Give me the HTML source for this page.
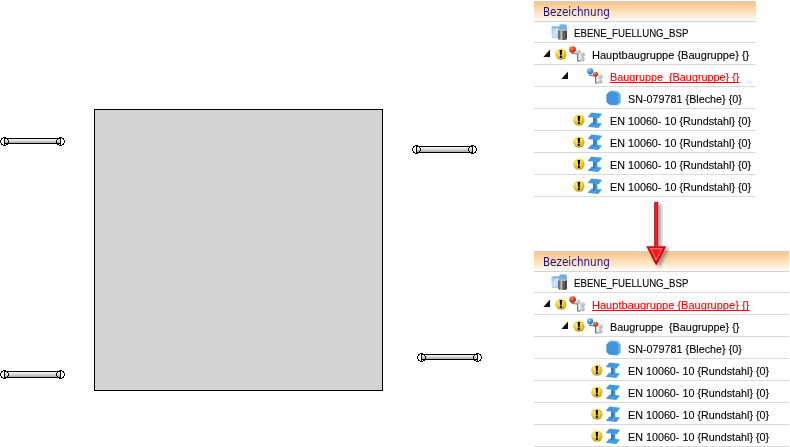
<!DOCTYPE html>
<html lang="de"><head><meta charset="utf-8"><title>Bezeichnung</title>
<style>
html,body{margin:0;padding:0;background:#fff}
html{width:790px;height:447px;overflow:hidden}
body{width:790px;height:447px;position:relative;overflow:hidden;font-family:"Liberation Sans", sans-serif;font-size:11.6px;color:#000}
.i{position:absolute;display:block;overflow:visible}
.t{position:absolute;white-space:nowrap;-webkit-text-stroke:0.12px currentColor;line-height:22px;height:22px;transform-origin:0 50%;letter-spacing:0}
.hdt{color:#1f1080;font-family:"DejaVu Sans Condensed","DejaVu Sans","Liberation Sans",sans-serif;font-size:12px;line-height:21px;height:21px;-webkit-text-stroke:0}
.red{color:#f00;text-decoration:underline;text-decoration-thickness:1px;text-underline-offset:1px;text-decoration-skip-ink:none}
.hd{position:absolute;height:19px;border-top:1px solid #ccd0d6;border-bottom:1px solid #d4d4d4;background:linear-gradient(#fcc684 0,#fdd6a8 33%,#feebd6 72%,#fffdfb 100%)}
.ln{position:absolute;height:1px;background:#dadada}
.dot{position:absolute;width:1px;height:1px;background:#dfe3ea}
#sq{position:absolute;left:94px;top:109px;width:287px;height:280px;border:1px solid #000;background:#d3d3d3}
#wrap{position:absolute;left:0;top:0;width:790px;height:447px;overflow:hidden;contain:strict}
</style></head><body>
<div id="wrap">
<div id="sq"></div>
<svg class="i" style="left:0px;top:137px" width="65" height="9" viewBox="0 0 65 9" shape-rendering="crispEdges">
<defs><linearGradient id="rd0_137" x1="0" x2="0" y1="0" y2="1"><stop offset="0" stop-color="#ffffff"/><stop offset=".35" stop-color="#e4e4e4"/><stop offset="1" stop-color="#a0a0a0"/></linearGradient></defs>
<rect x="4.5" y="1.5" width="56" height="5" fill="url(#rd0_137)" stroke="#000" stroke-width="1"/>
<path d="M4.5 0V9M60.5 0V9" stroke="#000" stroke-width="1" fill="none"/>
<path d="M3 .5H6M1 1.5H3M6 1.5H8M1 2.5H2M7 2.5H8M.5 3V6M8.5 3V6M1 6.5H2M7 6.5H8M1 7.5H3M6 7.5H8M3 8.5H6" stroke="#000" stroke-width="1" fill="none"/>
<path d="M3 .5H6M1 1.5H3M6 1.5H8M1 2.5H2M7 2.5H8M.5 3V6M8.5 3V6M1 6.5H2M7 6.5H8M1 7.5H3M6 7.5H8M3 8.5H6" stroke="#000" stroke-width="1" fill="none" transform="translate(56 0)"/>
</svg>
<svg class="i" style="left:0px;top:370px" width="65" height="9" viewBox="0 0 65 9" shape-rendering="crispEdges">
<defs><linearGradient id="rd0_370" x1="0" x2="0" y1="0" y2="1"><stop offset="0" stop-color="#ffffff"/><stop offset=".35" stop-color="#e4e4e4"/><stop offset="1" stop-color="#a0a0a0"/></linearGradient></defs>
<rect x="4.5" y="1.5" width="56" height="6" fill="url(#rd0_370)" stroke="#000" stroke-width="1"/>
<path d="M4.5 0V9M60.5 0V9" stroke="#000" stroke-width="1" fill="none"/>
<path d="M3 .5H6M1 1.5H3M6 1.5H8M1 2.5H2M7 2.5H8M.5 3V6M8.5 3V6M1 6.5H2M7 6.5H8M1 7.5H3M6 7.5H8M3 8.5H6" stroke="#000" stroke-width="1" fill="none"/>
<path d="M3 .5H6M1 1.5H3M6 1.5H8M1 2.5H2M7 2.5H8M.5 3V6M8.5 3V6M1 6.5H2M7 6.5H8M1 7.5H3M6 7.5H8M3 8.5H6" stroke="#000" stroke-width="1" fill="none" transform="translate(56 0)"/>
</svg>
<svg class="i" style="left:412px;top:145px" width="65" height="9" viewBox="0 0 65 9" shape-rendering="crispEdges">
<defs><linearGradient id="rd412_145" x1="0" x2="0" y1="0" y2="1"><stop offset="0" stop-color="#ffffff"/><stop offset=".35" stop-color="#e4e4e4"/><stop offset="1" stop-color="#a0a0a0"/></linearGradient></defs>
<rect x="4.5" y="1.5" width="56" height="6" fill="url(#rd412_145)" stroke="#000" stroke-width="1"/>
<path d="M4.5 0V9M60.5 0V9" stroke="#000" stroke-width="1" fill="none"/>
<path d="M3 .5H6M1 1.5H3M6 1.5H8M1 2.5H2M7 2.5H8M.5 3V6M8.5 3V6M1 6.5H2M7 6.5H8M1 7.5H3M6 7.5H8M3 8.5H6" stroke="#000" stroke-width="1" fill="none"/>
<path d="M3 .5H6M1 1.5H3M6 1.5H8M1 2.5H2M7 2.5H8M.5 3V6M8.5 3V6M1 6.5H2M7 6.5H8M1 7.5H3M6 7.5H8M3 8.5H6" stroke="#000" stroke-width="1" fill="none" transform="translate(56 0)"/>
</svg>
<svg class="i" style="left:417px;top:353px" width="65" height="9" viewBox="0 0 65 9" shape-rendering="crispEdges">
<defs><linearGradient id="rd417_353" x1="0" x2="0" y1="0" y2="1"><stop offset="0" stop-color="#ffffff"/><stop offset=".35" stop-color="#e4e4e4"/><stop offset="1" stop-color="#a0a0a0"/></linearGradient></defs>
<rect x="4.5" y="1.5" width="56" height="5" fill="url(#rd417_353)" stroke="#000" stroke-width="1"/>
<path d="M4.5 0V9M60.5 0V9" stroke="#000" stroke-width="1" fill="none"/>
<path d="M3 .5H6M1 1.5H3M6 1.5H8M1 2.5H2M7 2.5H8M.5 3V6M8.5 3V6M1 6.5H2M7 6.5H8M1 7.5H3M6 7.5H8M3 8.5H6" stroke="#000" stroke-width="1" fill="none"/>
<path d="M3 .5H6M1 1.5H3M6 1.5H8M1 2.5H2M7 2.5H8M.5 3V6M8.5 3V6M1 6.5H2M7 6.5H8M1 7.5H3M6 7.5H8M3 8.5H6" stroke="#000" stroke-width="1" fill="none" transform="translate(56 0)"/>
</svg>
<div class="hd" style="left:534px;top:1px;width:222px"></div>
<span class="t hdt" style="left:543px;top:2px;transform:scaleX(0.962)">Bezeichnung</span>
<div class="ln" style="left:534px;top:42px;width:222px"></div>
<div class="ln" style="left:534px;top:64px;width:222px"></div>
<div class="ln" style="left:534px;top:86px;width:222px"></div>
<div class="ln" style="left:534px;top:108px;width:222px"></div>
<div class="ln" style="left:534px;top:130px;width:222px"></div>
<div class="ln" style="left:534px;top:152px;width:222px"></div>
<div class="ln" style="left:534px;top:174px;width:222px"></div>
<div class="ln" style="left:534px;top:196px;width:222px"></div>
<svg class="i" style="left:551px;top:24px" width="17" height="17" viewBox="0 0 17 17">
<defs>
<linearGradient id="cy551_24" x1="0" x2="1" y1="0" y2="0"><stop offset="0" stop-color="#565656"/><stop offset=".18" stop-color="#7a7a7a"/><stop offset=".36" stop-color="#cdcdcd"/><stop offset=".52" stop-color="#6a6a6a"/><stop offset="1" stop-color="#3e3e3e"/></linearGradient>
<linearGradient id="fo551_24" x1="0" x2="1" y1="0" y2="1"><stop offset="0" stop-color="#9ccbf0"/><stop offset=".5" stop-color="#d3e6f7"/><stop offset="1" stop-color="#a9d0f0"/></linearGradient>
</defs>
<path d="M0.6 3.2 Q0.6 2.4 1.4 2.4 L7.6 2.6 L9 0.8 Q9.4 0.3 10.2 0.3 L14.6 0.5 Q15.6 0.6 15.8 1.6 L16 6 L8 6 L8 14 L1.8 13.8 Q1 13.6 0.9 12.8 Z" fill="#6db0e7"/>
<path d="M0.9 4 L7.8 4.2 L7.8 14 L2.2 13.6 Q1.3 13.4 1.2 12.6 Z" fill="url(#fo551_24)"/>
<path d="M7.2 5.9 L7.2 14.7 Q7.2 16 11.6 16 Q16 16 16 14.7 L16 5.9 Z" fill="url(#cy551_24)"/>
<ellipse cx="11.6" cy="5.9" rx="4.4" ry="1.05" fill="#b4b4b4"/>
</svg>
<span class="t " style="left:573.7px;top:22px;transform:scaleX(0.833)">EBENE_FUELLUNG_BSP</span>
<svg class="i" style="left:543px;top:50px" width="8" height="8" viewBox="0 0 8 8"><path d="M7 -0.5 L7 7 L0.4 7 Z" fill="#111"/></svg>
<svg class="i" style="left:555px;top:48px" width="12" height="12" viewBox="0 0 12 12">
<defs><radialGradient id="w555_48" cx=".4" cy=".3" r=".75"><stop offset="0" stop-color="#fff08a"/><stop offset=".45" stop-color="#f3d53a"/><stop offset=".85" stop-color="#cfae1c"/><stop offset="1" stop-color="#9a8412"/></radialGradient></defs>
<circle cx="5.9" cy="6.2" r="5.6" fill="url(#w555_48)"/>
<path d="M4.6 2 L7.1 2 L6.6 7.4 L5.1 7.4 Z" fill="#000"/>
<rect x="4.9" y="8.1" width="2" height="1.9" rx=".4" fill="#000"/>
</svg>
<svg class="i" style="left:569px;top:46px" width="17" height="17" viewBox="0 0 17 17"><defs><radialGradient id="ra569_461" cx=".38" cy=".32" r=".8"><stop offset="0" stop-color="#ff9078"/><stop offset=".5" stop-color="#e03c24"/><stop offset="1" stop-color="#b02410"/></radialGradient><radialGradient id="ga569_462" cx=".38" cy=".32" r=".8"><stop offset="0" stop-color="#e2e2e2"/><stop offset=".5" stop-color="#bdbdbd"/><stop offset="1" stop-color="#949494"/></radialGradient><radialGradient id="ga569_463" cx=".38" cy=".32" r=".8"><stop offset="0" stop-color="#e2e2e2"/><stop offset=".5" stop-color="#bdbdbd"/><stop offset="1" stop-color="#949494"/></radialGradient><radialGradient id="ga569_464" cx=".38" cy=".32" r=".8"><stop offset="0" stop-color="#e2e2e2"/><stop offset=".5" stop-color="#bdbdbd"/><stop offset="1" stop-color="#949494"/></radialGradient></defs>
<path d="M3.2 6.6 L3.2 7.5 L8.4 7.8 M8.7 8 L8.7 14.8 L11.4 14.8" stroke="#587a90" stroke-width="1.2" fill="none"/>
<path d="M9.6 9 L9.6 14 M9 10.8 L11.4 10.8" stroke="#b9d6e6" stroke-width="1" fill="none"/>
<circle cx="9.3" cy="5.8" r="2.2" fill="url(#ga569_462)"/><circle cx="13.6" cy="8.6" r="2.3" fill="url(#ga569_463)"/><circle cx="13.4" cy="13.1" r="2.3" fill="url(#ga569_464)"/><circle cx="3.6" cy="3.5" r="3.35" fill="url(#ra569_461)"/></svg>
<span class="t " style="left:592px;top:44px;transform:scaleX(0.953)">Hauptbaugruppe {Baugruppe} {}</span>
<svg class="i" style="left:561px;top:72px" width="8" height="8" viewBox="0 0 8 8"><path d="M7 -0.5 L7 7 L0.4 7 Z" fill="#111"/></svg>
<svg class="i" style="left:587px;top:68px" width="17" height="17" viewBox="0 0 17 17"><defs><radialGradient id="bb587_681" cx=".38" cy=".32" r=".8"><stop offset="0" stop-color="#9fd4ff"/><stop offset=".5" stop-color="#3b94dc"/><stop offset="1" stop-color="#1f6fb8"/></radialGradient><radialGradient id="rb587_682" cx=".38" cy=".32" r=".8"><stop offset="0" stop-color="#ff9078"/><stop offset=".5" stop-color="#e03c24"/><stop offset="1" stop-color="#b02410"/></radialGradient><radialGradient id="gb587_683" cx=".38" cy=".32" r=".8"><stop offset="0" stop-color="#e2e2e2"/><stop offset=".5" stop-color="#bdbdbd"/><stop offset="1" stop-color="#949494"/></radialGradient><radialGradient id="gb587_684" cx=".38" cy=".32" r=".8"><stop offset="0" stop-color="#e2e2e2"/><stop offset=".5" stop-color="#bdbdbd"/><stop offset="1" stop-color="#949494"/></radialGradient></defs>
<path d="M2.8 6.4 L3 7.4 L6.6 7.6 M8.6 8.4 L8.6 15 L11.2 15" stroke="#587a90" stroke-width="1.2" fill="none"/>
<path d="M9.5 9 L9.5 14.2 M9 10.8 L11.4 10.8" stroke="#b9d6e6" stroke-width="1" fill="none"/>
<circle cx="13.5" cy="8.6" r="2.25" fill="url(#gb587_683)"/><circle cx="13.1" cy="13.3" r="2.3" fill="url(#gb587_684)"/><circle cx="8.6" cy="6.2" r="2.55" fill="url(#rb587_682)"/><circle cx="3.15" cy="3.3" r="3.1" fill="url(#bb587_681)"/></svg>
<span class="t red" style="left:610.2px;top:66px;transform:scaleX(0.934)">Baugruppe&nbsp; {Baugruppe} {}</span>
<svg class="i" style="left:605.8px;top:91.2px" width="16" height="16" viewBox="0 0 16 16">
<path d="M3.4 0.9 L5 -0.2 L11.6 0.6 L14.3 3.4 L14.3 11.6 L11.6 14.2 L3.9 13.5 L0.9 11.2 L0.9 3.5 Z" fill="#62ade8" stroke="#62ade8" stroke-width=".6" stroke-linejoin="round"/>
<path d="M3.3 1.2 L9.6 1.5 L11.7 3.6 L11.7 11.6 L9.8 13.6 L3.9 13.4 L0.9 11.2 L0.9 3.5 Z" fill="#3f95db" stroke="#3f95db" stroke-width=".6" stroke-linejoin="round"/>
</svg>
<span class="t " style="left:627.5px;top:88px;transform:scaleX(0.93)">SN-079781 {Bleche} {0}</span>
<svg class="i" style="left:573px;top:114px" width="12" height="12" viewBox="0 0 12 12">
<defs><radialGradient id="w573_114" cx=".4" cy=".3" r=".75"><stop offset="0" stop-color="#fff08a"/><stop offset=".45" stop-color="#f3d53a"/><stop offset=".85" stop-color="#cfae1c"/><stop offset="1" stop-color="#9a8412"/></radialGradient></defs>
<circle cx="5.9" cy="6.2" r="5.6" fill="url(#w573_114)"/>
<path d="M4.6 2 L7.1 2 L6.6 7.4 L5.1 7.4 Z" fill="#000"/>
<rect x="4.9" y="8.1" width="2" height="1.9" rx=".4" fill="#000"/>
</svg>
<svg class="i" style="left:587px;top:112px" width="16" height="17" viewBox="0 0 16 17">
<path d="M4.4 0.4 L15.2 1.8 L11.8 6.3 L0.6 5.1 Z" fill="#4399df"/>
<path d="M6.1 5.6 L10.3 6 L10.3 12.6 L6.1 12.6 Z" fill="#3f95dc"/>
<path d="M6.1 5.6 L8.1 5.8 L8.1 14 L6.1 12.2 Z" fill="#2b7cc2"/>
<path d="M4.6 10.4 L6.1 10.5 L6.1 12.2 L8.1 14 L8.1 10.8 L15 11.4 L11.3 15.9 L0.6 14.8 Z" fill="#4399df"/>
</svg>
<span class="t " style="left:610px;top:110px;transform:scaleX(0.928)">EN 10060- 10 {Rundstahl} {0}</span>
<svg class="i" style="left:573px;top:136px" width="12" height="12" viewBox="0 0 12 12">
<defs><radialGradient id="w573_136" cx=".4" cy=".3" r=".75"><stop offset="0" stop-color="#fff08a"/><stop offset=".45" stop-color="#f3d53a"/><stop offset=".85" stop-color="#cfae1c"/><stop offset="1" stop-color="#9a8412"/></radialGradient></defs>
<circle cx="5.9" cy="6.2" r="5.6" fill="url(#w573_136)"/>
<path d="M4.6 2 L7.1 2 L6.6 7.4 L5.1 7.4 Z" fill="#000"/>
<rect x="4.9" y="8.1" width="2" height="1.9" rx=".4" fill="#000"/>
</svg>
<svg class="i" style="left:587px;top:134px" width="16" height="17" viewBox="0 0 16 17">
<path d="M4.4 0.4 L15.2 1.8 L11.8 6.3 L0.6 5.1 Z" fill="#4399df"/>
<path d="M6.1 5.6 L10.3 6 L10.3 12.6 L6.1 12.6 Z" fill="#3f95dc"/>
<path d="M6.1 5.6 L8.1 5.8 L8.1 14 L6.1 12.2 Z" fill="#2b7cc2"/>
<path d="M4.6 10.4 L6.1 10.5 L6.1 12.2 L8.1 14 L8.1 10.8 L15 11.4 L11.3 15.9 L0.6 14.8 Z" fill="#4399df"/>
</svg>
<span class="t " style="left:610px;top:132px;transform:scaleX(0.928)">EN 10060- 10 {Rundstahl} {0}</span>
<svg class="i" style="left:573px;top:158px" width="12" height="12" viewBox="0 0 12 12">
<defs><radialGradient id="w573_158" cx=".4" cy=".3" r=".75"><stop offset="0" stop-color="#fff08a"/><stop offset=".45" stop-color="#f3d53a"/><stop offset=".85" stop-color="#cfae1c"/><stop offset="1" stop-color="#9a8412"/></radialGradient></defs>
<circle cx="5.9" cy="6.2" r="5.6" fill="url(#w573_158)"/>
<path d="M4.6 2 L7.1 2 L6.6 7.4 L5.1 7.4 Z" fill="#000"/>
<rect x="4.9" y="8.1" width="2" height="1.9" rx=".4" fill="#000"/>
</svg>
<svg class="i" style="left:587px;top:156px" width="16" height="17" viewBox="0 0 16 17">
<path d="M4.4 0.4 L15.2 1.8 L11.8 6.3 L0.6 5.1 Z" fill="#4399df"/>
<path d="M6.1 5.6 L10.3 6 L10.3 12.6 L6.1 12.6 Z" fill="#3f95dc"/>
<path d="M6.1 5.6 L8.1 5.8 L8.1 14 L6.1 12.2 Z" fill="#2b7cc2"/>
<path d="M4.6 10.4 L6.1 10.5 L6.1 12.2 L8.1 14 L8.1 10.8 L15 11.4 L11.3 15.9 L0.6 14.8 Z" fill="#4399df"/>
</svg>
<span class="t " style="left:610px;top:154px;transform:scaleX(0.928)">EN 10060- 10 {Rundstahl} {0}</span>
<svg class="i" style="left:573px;top:180px" width="12" height="12" viewBox="0 0 12 12">
<defs><radialGradient id="w573_180" cx=".4" cy=".3" r=".75"><stop offset="0" stop-color="#fff08a"/><stop offset=".45" stop-color="#f3d53a"/><stop offset=".85" stop-color="#cfae1c"/><stop offset="1" stop-color="#9a8412"/></radialGradient></defs>
<circle cx="5.9" cy="6.2" r="5.6" fill="url(#w573_180)"/>
<path d="M4.6 2 L7.1 2 L6.6 7.4 L5.1 7.4 Z" fill="#000"/>
<rect x="4.9" y="8.1" width="2" height="1.9" rx=".4" fill="#000"/>
</svg>
<svg class="i" style="left:587px;top:178px" width="16" height="17" viewBox="0 0 16 17">
<path d="M4.4 0.4 L15.2 1.8 L11.8 6.3 L0.6 5.1 Z" fill="#4399df"/>
<path d="M6.1 5.6 L10.3 6 L10.3 12.6 L6.1 12.6 Z" fill="#3f95dc"/>
<path d="M6.1 5.6 L8.1 5.8 L8.1 14 L6.1 12.2 Z" fill="#2b7cc2"/>
<path d="M4.6 10.4 L6.1 10.5 L6.1 12.2 L8.1 14 L8.1 10.8 L15 11.4 L11.3 15.9 L0.6 14.8 Z" fill="#4399df"/>
</svg>
<span class="t " style="left:610px;top:176px;transform:scaleX(0.928)">EN 10060- 10 {Rundstahl} {0}</span>
<div class="hd" style="left:534px;top:251px;width:255px"></div>
<span class="t hdt" style="left:543px;top:252px;transform:scaleX(0.962)">Bezeichnung</span>
<div class="ln" style="left:534px;top:292px;width:255px"></div>
<div class="ln" style="left:534px;top:314px;width:255px"></div>
<div class="ln" style="left:534px;top:336px;width:255px"></div>
<div class="ln" style="left:534px;top:358px;width:255px"></div>
<div class="ln" style="left:534px;top:380px;width:255px"></div>
<div class="ln" style="left:534px;top:402px;width:255px"></div>
<div class="ln" style="left:534px;top:424px;width:255px"></div>
<div class="ln" style="left:534px;top:446px;width:255px"></div>
<svg class="i" style="left:551px;top:274px" width="17" height="17" viewBox="0 0 17 17">
<defs>
<linearGradient id="cy551_274" x1="0" x2="1" y1="0" y2="0"><stop offset="0" stop-color="#565656"/><stop offset=".18" stop-color="#7a7a7a"/><stop offset=".36" stop-color="#cdcdcd"/><stop offset=".52" stop-color="#6a6a6a"/><stop offset="1" stop-color="#3e3e3e"/></linearGradient>
<linearGradient id="fo551_274" x1="0" x2="1" y1="0" y2="1"><stop offset="0" stop-color="#9ccbf0"/><stop offset=".5" stop-color="#d3e6f7"/><stop offset="1" stop-color="#a9d0f0"/></linearGradient>
</defs>
<path d="M0.6 3.2 Q0.6 2.4 1.4 2.4 L7.6 2.6 L9 0.8 Q9.4 0.3 10.2 0.3 L14.6 0.5 Q15.6 0.6 15.8 1.6 L16 6 L8 6 L8 14 L1.8 13.8 Q1 13.6 0.9 12.8 Z" fill="#6db0e7"/>
<path d="M0.9 4 L7.8 4.2 L7.8 14 L2.2 13.6 Q1.3 13.4 1.2 12.6 Z" fill="url(#fo551_274)"/>
<path d="M7.2 5.9 L7.2 14.7 Q7.2 16 11.6 16 Q16 16 16 14.7 L16 5.9 Z" fill="url(#cy551_274)"/>
<ellipse cx="11.6" cy="5.9" rx="4.4" ry="1.05" fill="#b4b4b4"/>
</svg>
<span class="t " style="left:573.7px;top:272px;transform:scaleX(0.833)">EBENE_FUELLUNG_BSP</span>
<svg class="i" style="left:543px;top:300px" width="8" height="8" viewBox="0 0 8 8"><path d="M7 -0.5 L7 7 L0.4 7 Z" fill="#111"/></svg>
<svg class="i" style="left:555px;top:298px" width="12" height="12" viewBox="0 0 12 12">
<defs><radialGradient id="w555_298" cx=".4" cy=".3" r=".75"><stop offset="0" stop-color="#fff08a"/><stop offset=".45" stop-color="#f3d53a"/><stop offset=".85" stop-color="#cfae1c"/><stop offset="1" stop-color="#9a8412"/></radialGradient></defs>
<circle cx="5.9" cy="6.2" r="5.6" fill="url(#w555_298)"/>
<path d="M4.6 2 L7.1 2 L6.6 7.4 L5.1 7.4 Z" fill="#000"/>
<rect x="4.9" y="8.1" width="2" height="1.9" rx=".4" fill="#000"/>
</svg>
<svg class="i" style="left:569px;top:296px" width="17" height="17" viewBox="0 0 17 17"><defs><radialGradient id="ra569_2961" cx=".38" cy=".32" r=".8"><stop offset="0" stop-color="#ff9078"/><stop offset=".5" stop-color="#e03c24"/><stop offset="1" stop-color="#b02410"/></radialGradient><radialGradient id="ga569_2962" cx=".38" cy=".32" r=".8"><stop offset="0" stop-color="#e2e2e2"/><stop offset=".5" stop-color="#bdbdbd"/><stop offset="1" stop-color="#949494"/></radialGradient><radialGradient id="ga569_2963" cx=".38" cy=".32" r=".8"><stop offset="0" stop-color="#e2e2e2"/><stop offset=".5" stop-color="#bdbdbd"/><stop offset="1" stop-color="#949494"/></radialGradient><radialGradient id="ga569_2964" cx=".38" cy=".32" r=".8"><stop offset="0" stop-color="#e2e2e2"/><stop offset=".5" stop-color="#bdbdbd"/><stop offset="1" stop-color="#949494"/></radialGradient></defs>
<path d="M3.2 6.6 L3.2 7.5 L8.4 7.8 M8.7 8 L8.7 14.8 L11.4 14.8" stroke="#587a90" stroke-width="1.2" fill="none"/>
<path d="M9.6 9 L9.6 14 M9 10.8 L11.4 10.8" stroke="#b9d6e6" stroke-width="1" fill="none"/>
<circle cx="9.3" cy="5.8" r="2.2" fill="url(#ga569_2962)"/><circle cx="13.6" cy="8.6" r="2.3" fill="url(#ga569_2963)"/><circle cx="13.4" cy="13.1" r="2.3" fill="url(#ga569_2964)"/><circle cx="3.6" cy="3.5" r="3.35" fill="url(#ra569_2961)"/></svg>
<span class="t red" style="left:592px;top:294px;transform:scaleX(0.953)">Hauptbaugruppe {Baugruppe} {}</span>
<svg class="i" style="left:561px;top:322px" width="8" height="8" viewBox="0 0 8 8"><path d="M7 -0.5 L7 7 L0.4 7 Z" fill="#111"/></svg>
<svg class="i" style="left:573px;top:320px" width="12" height="12" viewBox="0 0 12 12">
<defs><radialGradient id="w573_320" cx=".4" cy=".3" r=".75"><stop offset="0" stop-color="#fff08a"/><stop offset=".45" stop-color="#f3d53a"/><stop offset=".85" stop-color="#cfae1c"/><stop offset="1" stop-color="#9a8412"/></radialGradient></defs>
<circle cx="5.9" cy="6.2" r="5.6" fill="url(#w573_320)"/>
<path d="M4.6 2 L7.1 2 L6.6 7.4 L5.1 7.4 Z" fill="#000"/>
<rect x="4.9" y="8.1" width="2" height="1.9" rx=".4" fill="#000"/>
</svg>
<svg class="i" style="left:587px;top:318px" width="17" height="17" viewBox="0 0 17 17"><defs><radialGradient id="bb587_3181" cx=".38" cy=".32" r=".8"><stop offset="0" stop-color="#9fd4ff"/><stop offset=".5" stop-color="#3b94dc"/><stop offset="1" stop-color="#1f6fb8"/></radialGradient><radialGradient id="rb587_3182" cx=".38" cy=".32" r=".8"><stop offset="0" stop-color="#ff9078"/><stop offset=".5" stop-color="#e03c24"/><stop offset="1" stop-color="#b02410"/></radialGradient><radialGradient id="gb587_3183" cx=".38" cy=".32" r=".8"><stop offset="0" stop-color="#e2e2e2"/><stop offset=".5" stop-color="#bdbdbd"/><stop offset="1" stop-color="#949494"/></radialGradient><radialGradient id="gb587_3184" cx=".38" cy=".32" r=".8"><stop offset="0" stop-color="#e2e2e2"/><stop offset=".5" stop-color="#bdbdbd"/><stop offset="1" stop-color="#949494"/></radialGradient></defs>
<path d="M2.8 6.4 L3 7.4 L6.6 7.6 M8.6 8.4 L8.6 15 L11.2 15" stroke="#587a90" stroke-width="1.2" fill="none"/>
<path d="M9.5 9 L9.5 14.2 M9 10.8 L11.4 10.8" stroke="#b9d6e6" stroke-width="1" fill="none"/>
<circle cx="13.5" cy="8.6" r="2.25" fill="url(#gb587_3183)"/><circle cx="13.1" cy="13.3" r="2.3" fill="url(#gb587_3184)"/><circle cx="8.6" cy="6.2" r="2.55" fill="url(#rb587_3182)"/><circle cx="3.15" cy="3.3" r="3.1" fill="url(#bb587_3181)"/></svg>
<span class="t " style="left:610.2px;top:316px;transform:scaleX(0.934)">Baugruppe&nbsp; {Baugruppe} {}</span>
<svg class="i" style="left:605.8px;top:341.2px" width="16" height="16" viewBox="0 0 16 16">
<path d="M3.4 0.9 L5 -0.2 L11.6 0.6 L14.3 3.4 L14.3 11.6 L11.6 14.2 L3.9 13.5 L0.9 11.2 L0.9 3.5 Z" fill="#62ade8" stroke="#62ade8" stroke-width=".6" stroke-linejoin="round"/>
<path d="M3.3 1.2 L9.6 1.5 L11.7 3.6 L11.7 11.6 L9.8 13.6 L3.9 13.4 L0.9 11.2 L0.9 3.5 Z" fill="#3f95db" stroke="#3f95db" stroke-width=".6" stroke-linejoin="round"/>
</svg>
<span class="t " style="left:627.5px;top:338px;transform:scaleX(0.93)">SN-079781 {Bleche} {0}</span>
<svg class="i" style="left:591px;top:364px" width="12" height="12" viewBox="0 0 12 12">
<defs><radialGradient id="w591_364" cx=".4" cy=".3" r=".75"><stop offset="0" stop-color="#fff08a"/><stop offset=".45" stop-color="#f3d53a"/><stop offset=".85" stop-color="#cfae1c"/><stop offset="1" stop-color="#9a8412"/></radialGradient></defs>
<circle cx="5.9" cy="6.2" r="5.6" fill="url(#w591_364)"/>
<path d="M4.6 2 L7.1 2 L6.6 7.4 L5.1 7.4 Z" fill="#000"/>
<rect x="4.9" y="8.1" width="2" height="1.9" rx=".4" fill="#000"/>
</svg>
<svg class="i" style="left:605px;top:362px" width="16" height="17" viewBox="0 0 16 17">
<path d="M4.4 0.4 L15.2 1.8 L11.8 6.3 L0.6 5.1 Z" fill="#4399df"/>
<path d="M6.1 5.6 L10.3 6 L10.3 12.6 L6.1 12.6 Z" fill="#3f95dc"/>
<path d="M6.1 5.6 L8.1 5.8 L8.1 14 L6.1 12.2 Z" fill="#2b7cc2"/>
<path d="M4.6 10.4 L6.1 10.5 L6.1 12.2 L8.1 14 L8.1 10.8 L15 11.4 L11.3 15.9 L0.6 14.8 Z" fill="#4399df"/>
</svg>
<span class="t " style="left:628px;top:360px;transform:scaleX(0.928)">EN 10060- 10 {Rundstahl} {0}</span>
<svg class="i" style="left:591px;top:386px" width="12" height="12" viewBox="0 0 12 12">
<defs><radialGradient id="w591_386" cx=".4" cy=".3" r=".75"><stop offset="0" stop-color="#fff08a"/><stop offset=".45" stop-color="#f3d53a"/><stop offset=".85" stop-color="#cfae1c"/><stop offset="1" stop-color="#9a8412"/></radialGradient></defs>
<circle cx="5.9" cy="6.2" r="5.6" fill="url(#w591_386)"/>
<path d="M4.6 2 L7.1 2 L6.6 7.4 L5.1 7.4 Z" fill="#000"/>
<rect x="4.9" y="8.1" width="2" height="1.9" rx=".4" fill="#000"/>
</svg>
<svg class="i" style="left:605px;top:384px" width="16" height="17" viewBox="0 0 16 17">
<path d="M4.4 0.4 L15.2 1.8 L11.8 6.3 L0.6 5.1 Z" fill="#4399df"/>
<path d="M6.1 5.6 L10.3 6 L10.3 12.6 L6.1 12.6 Z" fill="#3f95dc"/>
<path d="M6.1 5.6 L8.1 5.8 L8.1 14 L6.1 12.2 Z" fill="#2b7cc2"/>
<path d="M4.6 10.4 L6.1 10.5 L6.1 12.2 L8.1 14 L8.1 10.8 L15 11.4 L11.3 15.9 L0.6 14.8 Z" fill="#4399df"/>
</svg>
<span class="t " style="left:628px;top:382px;transform:scaleX(0.928)">EN 10060- 10 {Rundstahl} {0}</span>
<svg class="i" style="left:591px;top:408px" width="12" height="12" viewBox="0 0 12 12">
<defs><radialGradient id="w591_408" cx=".4" cy=".3" r=".75"><stop offset="0" stop-color="#fff08a"/><stop offset=".45" stop-color="#f3d53a"/><stop offset=".85" stop-color="#cfae1c"/><stop offset="1" stop-color="#9a8412"/></radialGradient></defs>
<circle cx="5.9" cy="6.2" r="5.6" fill="url(#w591_408)"/>
<path d="M4.6 2 L7.1 2 L6.6 7.4 L5.1 7.4 Z" fill="#000"/>
<rect x="4.9" y="8.1" width="2" height="1.9" rx=".4" fill="#000"/>
</svg>
<svg class="i" style="left:605px;top:406px" width="16" height="17" viewBox="0 0 16 17">
<path d="M4.4 0.4 L15.2 1.8 L11.8 6.3 L0.6 5.1 Z" fill="#4399df"/>
<path d="M6.1 5.6 L10.3 6 L10.3 12.6 L6.1 12.6 Z" fill="#3f95dc"/>
<path d="M6.1 5.6 L8.1 5.8 L8.1 14 L6.1 12.2 Z" fill="#2b7cc2"/>
<path d="M4.6 10.4 L6.1 10.5 L6.1 12.2 L8.1 14 L8.1 10.8 L15 11.4 L11.3 15.9 L0.6 14.8 Z" fill="#4399df"/>
</svg>
<span class="t " style="left:628px;top:404px;transform:scaleX(0.928)">EN 10060- 10 {Rundstahl} {0}</span>
<svg class="i" style="left:591px;top:430px" width="12" height="12" viewBox="0 0 12 12">
<defs><radialGradient id="w591_430" cx=".4" cy=".3" r=".75"><stop offset="0" stop-color="#fff08a"/><stop offset=".45" stop-color="#f3d53a"/><stop offset=".85" stop-color="#cfae1c"/><stop offset="1" stop-color="#9a8412"/></radialGradient></defs>
<circle cx="5.9" cy="6.2" r="5.6" fill="url(#w591_430)"/>
<path d="M4.6 2 L7.1 2 L6.6 7.4 L5.1 7.4 Z" fill="#000"/>
<rect x="4.9" y="8.1" width="2" height="1.9" rx=".4" fill="#000"/>
</svg>
<svg class="i" style="left:605px;top:428px" width="16" height="17" viewBox="0 0 16 17">
<path d="M4.4 0.4 L15.2 1.8 L11.8 6.3 L0.6 5.1 Z" fill="#4399df"/>
<path d="M6.1 5.6 L10.3 6 L10.3 12.6 L6.1 12.6 Z" fill="#3f95dc"/>
<path d="M6.1 5.6 L8.1 5.8 L8.1 14 L6.1 12.2 Z" fill="#2b7cc2"/>
<path d="M4.6 10.4 L6.1 10.5 L6.1 12.2 L8.1 14 L8.1 10.8 L15 11.4 L11.3 15.9 L0.6 14.8 Z" fill="#4399df"/>
</svg>
<span class="t " style="left:628px;top:426px;transform:scaleX(0.928)">EN 10060- 10 {Rundstahl} {0}</span>
<div class="dot" style="left:533px;top:250px"></div><div class="dot" style="left:789px;top:250px"></div>
<svg class="i" style="left:640px;top:198px" width="36" height="76" viewBox="0 0 36 76">
<defs>
<filter id="bl" x="-50%" y="-20%" width="200%" height="140%"><feGaussianBlur stdDeviation="1.7"/></filter>
<linearGradient id="ar" x1="0" x2="1" y1="0" y2="0"><stop offset="0" stop-color="#a8000a"/><stop offset=".28" stop-color="#dc141c"/><stop offset=".5" stop-color="#f83438"/><stop offset=".72" stop-color="#dc141c"/><stop offset="1" stop-color="#a8000a"/></linearGradient>
<linearGradient id="ah" x1="0" x2="0" y1="0" y2="1"><stop offset="0" stop-color="#d80810"/><stop offset="1" stop-color="#c4000c"/></linearGradient>
</defs>
<path d="M17.4 6 L21.4 6 L21.4 50 L29.5 50 L19.5 70 L9.5 50 L17.4 50 Z" fill="#4a5058" opacity=".5" filter="url(#bl)"/>
<rect x="14.2" y="3.8" width="4" height="46" fill="url(#ar)"/>
<path d="M6.2 48.2 L26.2 48.2 L16.2 67.8 Z" fill="url(#ah)"/>
<path d="M10.4 50.6 L22 50.6 L16.2 62.2 Z" fill="#f01c22" stroke="#ff6c6c" stroke-width="1.1" stroke-linejoin="round"/>
</svg>
</div>
</body></html>
